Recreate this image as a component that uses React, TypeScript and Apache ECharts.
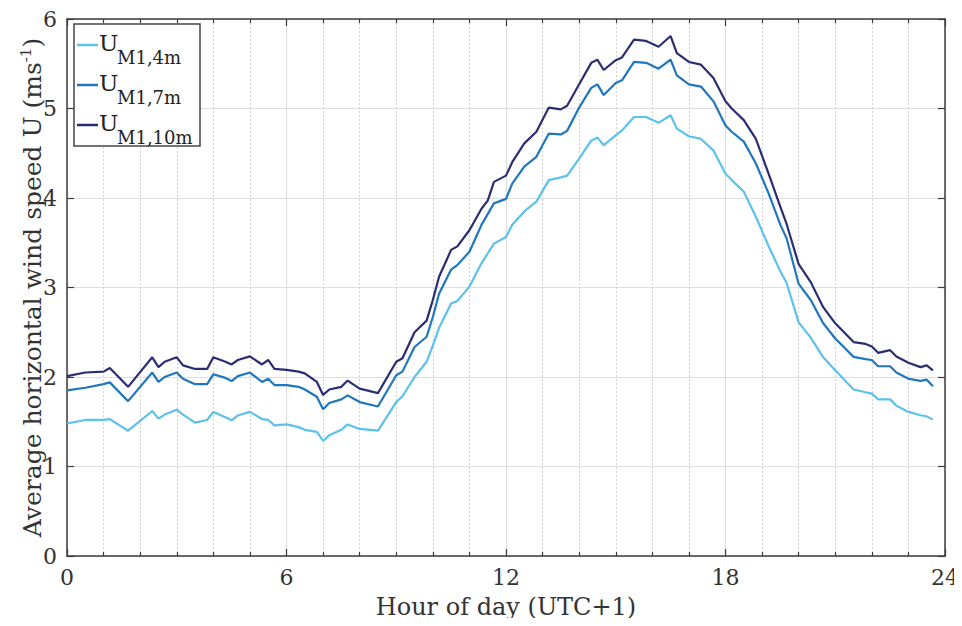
import React, { useEffect, useRef } from "react";
import * as echarts from "echarts";

// Hour of day (UTC+1) of each sample
const hours = [
  0, 0.5, 1.0, 1.17, 1.67, 2.33, 2.5, 2.67, 3.0, 3.17, 3.5, 3.83, 4.0, 4.33, 4.5, 4.67,
  5.0, 5.33, 5.5, 5.67, 6.0, 6.33, 6.5, 6.83, 7.0, 7.17, 7.5, 7.67, 8.0, 8.5, 9.0, 9.17,
  9.5, 9.83, 10.0, 10.17, 10.5, 10.67, 11.0, 11.33, 11.5, 11.67, 12.0, 12.17, 12.5, 12.83,
  13.17, 13.5, 13.67, 14.0, 14.33, 14.5, 14.67, 15.0, 15.17, 15.5, 15.83, 16.17, 16.5,
  16.67, 17.0, 17.33, 17.67, 18.0, 18.17, 18.5, 18.83, 19.17, 19.5, 19.67, 20.0, 20.33,
  20.67, 21.0, 21.5, 21.83, 22.0, 22.17, 22.5, 22.67, 23.0, 23.33, 23.5, 23.67,
];

// Mean horizontal wind speed (m/s) at 4 m
const u4m = [
  1.48, 1.52, 1.52, 1.53, 1.4, 1.62, 1.535, 1.58, 1.635, 1.58, 1.49, 1.52, 1.61, 1.55, 1.516, 1.57,
  1.61, 1.53, 1.52, 1.46, 1.47, 1.44, 1.41, 1.386, 1.285, 1.35, 1.41, 1.47, 1.42, 1.4, 1.72, 1.785,
  2.0, 2.17, 2.35, 2.55, 2.82, 2.85, 3.01, 3.27, 3.38, 3.49, 3.565, 3.7, 3.85, 3.96,
  4.2, 4.23, 4.25, 4.44, 4.64, 4.675, 4.59, 4.7, 4.755, 4.905, 4.905, 4.84, 4.925,
  4.775, 4.69, 4.66, 4.53, 4.27, 4.2, 4.07, 3.79, 3.47, 3.18, 3.05, 2.61, 2.44,
  2.22, 2.075, 1.86, 1.83, 1.815, 1.75, 1.75, 1.68, 1.61, 1.573, 1.56, 1.524,
];

// Mean horizontal wind speed (m/s) at 7 m
const u7m = [
  1.85, 1.88, 1.92, 1.94, 1.73, 2.05, 1.945, 2.0, 2.05, 1.98, 1.92, 1.92, 2.03, 1.99, 1.955, 2.01,
  2.05, 1.945, 1.98, 1.91, 1.91, 1.89, 1.86, 1.78, 1.64, 1.71, 1.75, 1.795, 1.72, 1.67, 2.02, 2.06,
  2.335, 2.45, 2.67, 2.93, 3.2, 3.25, 3.4, 3.7, 3.82, 3.94, 3.99, 4.16, 4.35, 4.46,
  4.72, 4.71, 4.75, 5.01, 5.23, 5.27, 5.15, 5.285, 5.315, 5.52, 5.51, 5.445, 5.545,
  5.37, 5.27, 5.245, 5.08, 4.81, 4.74, 4.63, 4.385, 4.06, 3.7, 3.55, 3.04, 2.86,
  2.6, 2.43, 2.225, 2.2, 2.19, 2.12, 2.12, 2.05, 1.98, 1.956, 1.97, 1.896,
];

// Mean horizontal wind speed (m/s) at 10 m
const u10m = [
  2.01, 2.05, 2.06, 2.1, 1.89, 2.22, 2.11, 2.17, 2.22, 2.13, 2.09, 2.09, 2.22, 2.17, 2.14, 2.19,
  2.23, 2.14, 2.19, 2.09, 2.08, 2.06, 2.04, 1.945, 1.8, 1.86, 1.89, 1.96, 1.87, 1.82, 2.17, 2.21,
  2.5, 2.63, 2.86, 3.12, 3.42, 3.46, 3.64, 3.88, 3.97, 4.18, 4.25, 4.4, 4.61, 4.74,
  5.01, 4.99, 5.03, 5.27, 5.51, 5.545, 5.43, 5.54, 5.57, 5.77, 5.755, 5.69, 5.81,
  5.62, 5.52, 5.49, 5.34, 5.08, 5.0, 4.87, 4.66, 4.28, 3.9, 3.71, 3.26, 3.06,
  2.78, 2.6, 2.39, 2.37, 2.34, 2.27, 2.3, 2.23, 2.16, 2.11, 2.13, 2.075,
];

const xTicks = { min: 0, max: 24, interval: 6 };
const yTicks = { min: 0, max: 6, interval: 1 };

const FONT = "DejaVu Serif";
const AXIS_COLOR = "#3c3c3c";
const LABEL_COLOR = "#333333";
const LEGEND_TEXT = "#222222";

const heightSeries = [
  { name: "M1,4m", values: u4m, color: "#5cc1ec" },
  { name: "M1,7m", values: u7m, color: "#1f77bd" },
  { name: "M1,10m", values: u10m, color: "#2b2d72" },
];

// Boxed legend: a line sample, then "U" with the station/height tag as a subscript
function legendGraphics() {
  const box = { left: 74, top: 24, width: 126, height: 122 };
  const rowGap = 40;
  const elements: any[] = [
    {
      type: "rect",
      z: 100,
      shape: { x: box.left, y: box.top, width: box.width, height: box.height },
      style: { fill: "#ffffff", stroke: "#454545", lineWidth: 1.5 },
    },
  ];
  heightSeries.forEach((s, i) => {
    const mid = box.top + 21 + i * rowGap;
    elements.push(
      {
        type: "line",
        z: 101,
        shape: { x1: box.left + 3, y1: mid, x2: box.left + 24, y2: mid },
        style: { stroke: s.color, lineWidth: 2.5 },
      },
      {
        type: "text",
        z: 101,
        x: box.left + 25,
        y: mid - 2,
        style: {
          text: "U",
          font: `23px "${FONT}"`,
          fill: LEGEND_TEXT,
          align: "left",
          verticalAlign: "middle",
        },
      },
      {
        type: "text",
        z: 101,
        x: box.left + 43,
        y: mid + 12,
        style: {
          text: s.name,
          font: `18px "${FONT}"`,
          fill: LEGEND_TEXT,
          align: "left",
          verticalAlign: "middle",
        },
      }
    );
  });
  return elements;
}

export default function App() {
  const ref = useRef<HTMLDivElement>(null);

  useEffect(() => {
    if (!ref.current) return;
    const chart = echarts.init(ref.current, null, { renderer: "svg" });

    const frameAxis = {
      axisLine: { show: true, onZero: false, lineStyle: { color: AXIS_COLOR, width: 1.5 } },
      axisTick: { show: true, inside: true, length: 7, lineStyle: { color: AXIS_COLOR, width: 1.2 } },
    };

    chart.setOption({
      animation: false,
      backgroundColor: "#ffffff",
      textStyle: { fontFamily: FONT },
      grid: { left: 67, right: 16, top: 19, bottom: 70, containLabel: false },
      graphic: legendGraphics(),
      xAxis: [
        {
          type: "value",
          position: "bottom",
          ...xTicks,
          ...frameAxis,
          minorTick: { show: true, splitNumber: 6, length: 4, lineStyle: { color: AXIS_COLOR, width: 1.2 } },
          splitLine: { show: true, lineStyle: { color: "#dedede", width: 1.2 } },
          minorSplitLine: { show: true, lineStyle: { color: "#d2d2d2", width: 1, type: [2, 2] } },
          axisLabel: { color: LABEL_COLOR, fontFamily: FONT, fontSize: 22, margin: 10 },
          name: "Hour of day (UTC+1)",
          nameLocation: "middle",
          nameGap: 39,
          nameMoveOverlap: false,
          nameTextStyle: { color: LABEL_COLOR, fontFamily: FONT, fontSize: 24 },
        },
        {
          type: "value",
          position: "top",
          ...xTicks,
          ...frameAxis,
          minorTick: { show: true, splitNumber: 6, length: 4, lineStyle: { color: AXIS_COLOR, width: 1.2 } },
          splitLine: { show: false },
          axisLabel: { show: false },
        },
      ],
      yAxis: [
        {
          type: "value",
          position: "left",
          ...yTicks,
          ...frameAxis,
          splitLine: { show: true, lineStyle: { color: "#dedede", width: 1.2 } },
          axisLabel: { color: LABEL_COLOR, fontFamily: FONT, fontSize: 22, margin: 10 },
          name: "Average horizontal wind speed U (ms{sup|-1})",
          nameLocation: "middle",
          nameRotate: 90,
          nameGap: 21,
          nameMoveOverlap: false,
          nameTextStyle: {
            color: LABEL_COLOR,
            fontFamily: FONT,
            fontSize: 25,
            lineHeight: 28,
            rich: {
              sup: { fontFamily: FONT, fontSize: 15, lineHeight: 15, verticalAlign: "top", color: LABEL_COLOR },
            },
          },
        },
        {
          type: "value",
          position: "right",
          ...yTicks,
          ...frameAxis,
          splitLine: { show: false },
          axisLabel: { show: false },
        },
      ],
      series: heightSeries.map((s) => ({
        name: s.name,
        type: "line",
        xAxisIndex: 0,
        yAxisIndex: 0,
        symbol: "none",
        showSymbol: false,
        lineStyle: { color: s.color, width: 2.2 },
        itemStyle: { color: s.color },
        data: hours.map((h, i) => [h, s.values[i]]),
      })),
    });

    return () => chart.dispose();
  }, []);

  return <div ref={ref} style={{ width: 962, height: 626, margin: -8 }} />;
}
